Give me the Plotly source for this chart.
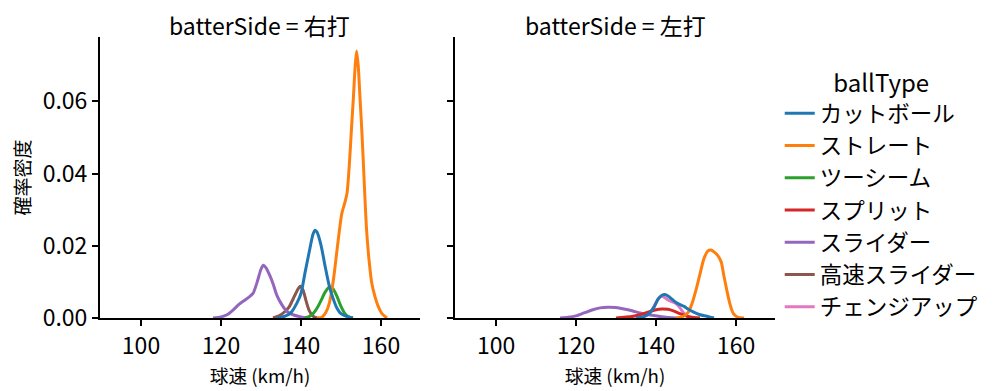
import plotly.graph_objects as go
from plotly.subplots import make_subplots

FONT = "Noto Sans CJK JP"

ball_types = ["カットボール", "ストレート", "ツーシーム", "スプリット", "スライダー", "高速スライダー", "チェンジアップ"]
colors = ["#1f77b4", "#ff7f0e", "#2ca02c", "#d62728", "#9467bd", "#8c564b", "#e377c2"]
panels = ["右打", "左打"]

# ---- 右打 (left panel) KDE curves: speed (km/h) and density ----
r_cut_x = [134, 136, 137.5, 139, 140, 141, 142, 143, 143.5, 144, 145, 146, 147, 148, 149, 150, 151.5, 153]
r_cut_y = [0, 0.0005, 0.0015, 0.0042, 0.0068, 0.0125, 0.018, 0.0232, 0.0243, 0.0238, 0.0202, 0.0145, 0.0092, 0.0055, 0.0027, 0.0012, 0.0004, 0]

r_str_x = [144, 145.2, 146.2, 147.1, 148.1, 149.1, 150.2, 151.0, 151.5, 152.1, 152.6, 153.1, 153.5, 153.9, 154.3, 154.75, 155.2, 155.6, 156.0, 156.4, 157.1, 157.7, 158.5, 159.3, 160.2, 161.5]
r_str_y = [0, 0.0002, 0.0015, 0.0042, 0.0105, 0.0197, 0.0289, 0.0321, 0.0345, 0.0427, 0.052, 0.061, 0.069, 0.0739, 0.070, 0.061, 0.052, 0.0427, 0.033, 0.0243, 0.0151, 0.0096, 0.0059, 0.0032, 0.0013, 0]

r_two_x = [141, 142, 143, 144, 145, 146, 147, 147.3, 148, 149, 150, 151, 152, 153]
r_two_y = [0, 0.0004, 0.0012, 0.0027, 0.0048, 0.0071, 0.0085, 0.0086, 0.0081, 0.0060, 0.0032, 0.0012, 0.0003, 0]

r_sl_x = [118, 120, 121.5, 123, 124.5, 126, 127, 128, 129, 130, 130.6, 131.3, 132.3, 133.1, 134, 135.2, 136.5, 138, 140, 142]
r_sl_y = [0, 0.0003, 0.0009, 0.0022, 0.0038, 0.005, 0.0058, 0.0068, 0.0098, 0.0135, 0.0146, 0.0138, 0.0115, 0.0092, 0.0062, 0.0037, 0.0018, 0.0009, 0.0003, 0]

r_hsl_x = [133, 134.5, 136, 137, 138, 139, 139.8, 140.5, 141.2, 142, 143, 144]
r_hsl_y = [0, 0.0006, 0.0018, 0.003, 0.0052, 0.0075, 0.0088, 0.0078, 0.005, 0.0022, 0.0005, 0]

# ---- 左打 (right panel) KDE curves ----
l_cut_x = [135, 137, 138.5, 139.5, 140.5, 141.5, 142.2, 143, 144, 145, 146, 147, 148, 149.3, 151, 152.7, 154.5]
l_cut_y = [0, 0.0004, 0.0015, 0.003, 0.0052, 0.0063, 0.0065, 0.0061, 0.0052, 0.0043, 0.0037, 0.0032, 0.0025, 0.0017, 0.0009, 0.0005, 0]

l_str_x = [145, 146.5, 148, 149, 150, 151, 152, 153, 153.7, 154.5, 155.5, 156.3, 157, 157.7, 158.5, 159.3, 160.5, 162]
l_str_y = [0, 0.0003, 0.0015, 0.004, 0.0078, 0.0122, 0.0165, 0.0186, 0.0188, 0.0183, 0.0172, 0.0155, 0.0115, 0.0077, 0.0038, 0.0013, 0.0002, 0]

l_spl_x = [130, 132, 134, 136, 138, 140, 141.5, 143, 144.5, 146, 147.5, 149, 151]
l_spl_y = [0, 0.0002, 0.0004, 0.0009, 0.0016, 0.0023, 0.0025, 0.0024, 0.0019, 0.0012, 0.0006, 0.0002, 0]

l_sl_x = [116, 118, 120, 122, 124, 126, 128, 130, 132, 134, 136, 138, 140, 142, 144, 146]
l_sl_y = [0, 0.0002, 0.0006, 0.0014, 0.0022, 0.0028, 0.003, 0.0029, 0.0025, 0.002, 0.0014, 0.0009, 0.0006, 0.0003, 0.0001, 0]

l_ch_x = [135.5, 137, 138.5, 139.5, 140.5, 141.3, 142, 143, 144, 145, 146, 147, 148, 149]
l_ch_y = [0, 0.0004, 0.0015, 0.0032, 0.0052, 0.006, 0.0058, 0.005, 0.0045, 0.004, 0.0028, 0.0013, 0.0003, 0]

x_ticks = [100, 120, 140, 160]
y_ticks = [0.00, 0.02, 0.04, 0.06]

curves = {
    (0, "カットボール"): (r_cut_x, r_cut_y),
    (0, "ストレート"): (r_str_x, r_str_y),
    (0, "ツーシーム"): (r_two_x, r_two_y),
    (0, "スライダー"): (r_sl_x, r_sl_y),
    (0, "高速スライダー"): (r_hsl_x, r_hsl_y),
    (1, "カットボール"): (l_cut_x, l_cut_y),
    (1, "ストレート"): (l_str_x, l_str_y),
    (1, "スプリット"): (l_spl_x, l_spl_y),
    (1, "スライダー"): (l_sl_x, l_sl_y),
    (1, "チェンジアップ"): (l_ch_x, l_ch_y),
}

fig = make_subplots(rows=1, cols=2, shared_yaxes=True, horizontal_spacing=0.0519,
                    subplot_titles=[f"batterSide = {p}" for p in panels])

shown = set()
for col in (0, 1):
    for i in reversed(range(len(ball_types))):
        bt = ball_types[i]
        if (col, bt) not in curves:
            continue
        xs, ys = curves[(col, bt)]
        fig.add_trace(go.Scatter(
            x=xs, y=ys, mode="lines", name=bt,
            line=dict(color=colors[i], width=3, shape="spline", smoothing=0.7),
            legendgroup=bt, legendrank=i + 1, showlegend=bt not in shown,
        ), row=1, col=col + 1)
        shown.add(bt)

axis_common = dict(
    showgrid=False, zeroline=False, showline=True, linecolor="black", linewidth=2,
    ticks="outside", ticklen=6, tickwidth=2, tickcolor="black",
    tickfont=dict(family=FONT, size=23, color="black"),
)
for c in (1, 2):
    fig.update_xaxes(range=[89.75, 169.75], tickvals=x_ticks, ticktext=[str(v) for v in x_ticks],
                     title=dict(text="球速 (km/h)", font=dict(family=FONT, size=18.7, color="black"), standoff=6),
                     row=1, col=c, **axis_common)
    fig.update_yaxes(range=[0, 0.0778], tickvals=y_ticks, tickformat=".2f", row=1, col=c, **axis_common)
fig.update_yaxes(title=dict(text="確率密度", font=dict(family=FONT, size=19, color="black"), standoff=8),
                 row=1, col=1)
fig.update_yaxes(showticklabels=False, row=1, col=2)

for ann in fig.layout.annotations:
    ann.font = dict(family=FONT, size=23, color="black")
    ann.yshift = -7

fig.update_layout(
    width=991, height=383,
    margin=dict(l=92, r=224, t=29, b=73),
    paper_bgcolor="white", plot_bgcolor="white",
    font=dict(family=FONT, color="black"),
    legend=dict(
        title=dict(text="ballType", side="top center", font=dict(family=FONT, size=24, color="black")),
        font=dict(family=FONT, size=22.5, color="black"),
        x=1.007, xanchor="left", y=0.915, yanchor="top",
        tracegroupgap=0, bgcolor="rgba(0,0,0,0)",
    ),
)

fig.write_html("out.html")
